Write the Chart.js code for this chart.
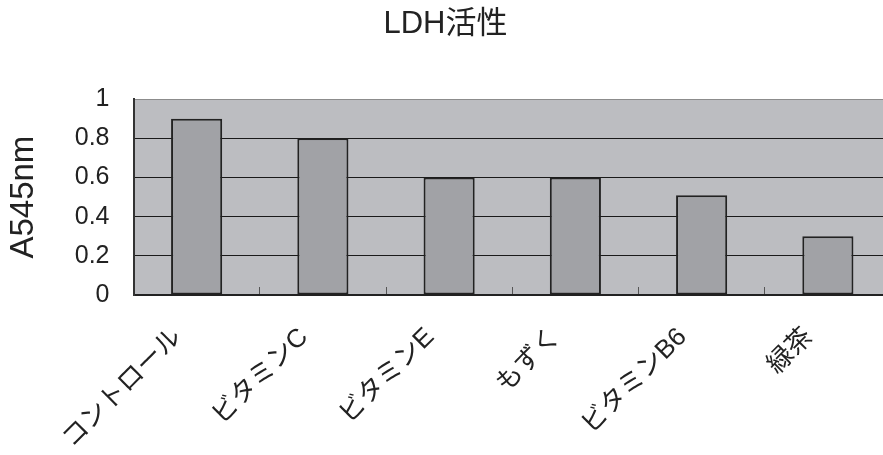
<!DOCTYPE html>
<html>
<head>
<meta charset="utf-8">
<script src="https://cdn.jsdelivr.net/npm/chart.js@4"></script>
<style>
    html, body { margin: 0; padding: 0; background: #ffffff; overflow: hidden; }
    /* el area de trazado sigue un poco mas alla del borde derecho */
    #wrap { width: 891px; height: 455px; }
</style>
</head>
<body>
<div id="wrap"><canvas id="chartCanvas"></canvas></div>
<script>
// Datos del grafico
const categories = ["コントロール", "ビタミンC", "ビタミンE", "もずく", "ビタミンB6", "緑茶"];
const ldhValues = [0.9, 0.8, 0.6, 0.6, 0.51, 0.3];
const yTickLabels = ["0", "0.2", "0.4", "0.6", "0.8", "1"];

const fontLatin = '"Liberation Sans", "Noto Sans CJK JP", sans-serif';

// Fondo gris del area de trazado
const plotBackground = {
    id: 'plotBackground',
    beforeDraw(chart) {
        const { ctx, chartArea } = chart;
        ctx.save();
        ctx.fillStyle = '#bcbdc1';
        ctx.fillRect(chartArea.left, chartArea.top, chartArea.right - chartArea.left, chartArea.bottom - chartArea.top);
        ctx.restore();
    }
};

const chartCanvas = document.getElementById('chartCanvas');

new Chart(chartCanvas, {
    type: 'bar',
    data: {
        labels: categories,
        datasets: [{
            label: 'LDH活性',
            data: ldhValues,
            backgroundColor: '#a1a2a6',
            borderColor: '#222222',
            borderWidth: 2,
            borderSkipped: false,
            categoryPercentage: 1,
            barPercentage: 0.405
        }]
    },
    options: {
        responsive: true,
        maintainAspectRatio: false,
        animation: false,
        plugins: {
            legend: { display: false },
            tooltip: { enabled: false },
            title: {
                display: true,
                text: 'LDH活性',
                color: '#222222',
                font: { family: fontLatin, size: 31, weight: 'normal' },
                padding: { top: 6, bottom: 56 }
            }
        },
        scales: {
            x: {
                offset: true,
                afterFit(scale) { scale.height = 160; },
                border: { display: true, color: '#222222', width: 2 },
                grid: {
                    offset: true,
                    drawOnChartArea: false,
                    drawTicks: true,
                    tickLength: -8,
                    color: '#555555',
                    lineWidth: 1
                },
                ticks: {
                    autoSkip: false,
                    maxRotation: 45,
                    minRotation: 45,
                    labelOffset: -19,
                    padding: 35,
                    color: '#222222',
                    font: { family: fontLatin, size: 26 }
                }
            },
            y: {
                min: 0,
                max: 1,
                afterFit(scale) { scale.width = 133.5; },
                border: { display: true, color: '#333333', width: 2 },
                grid: {
                    drawTicks: false,
                    lineWidth: 1,
                    color: (ctx) => ctx.tick && ctx.tick.value === 1 ? '#8c8c8c' : '#1a1a1a'
                },
                ticks: {
                    stepSize: 0.2,
                    padding: 24,
                    color: '#222222',
                    font: { family: fontLatin, size: 25 },
                    callback: (value, index) => yTickLabels[index]
                },
                title: {
                    display: true,
                    text: 'A545nm',
                    color: '#222222',
                    font: { family: fontLatin, size: 33 },
                    padding: { top: 4, bottom: 0 }
                }
            }
        }
    },
    plugins: [plotBackground]
});
</script>
</body>
</html>
